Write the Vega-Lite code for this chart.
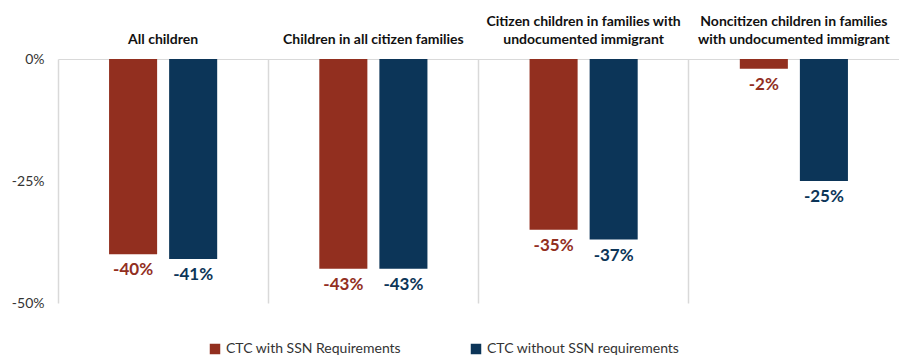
{
  "$schema": "https://vega.github.io/schema/vega-lite/v6.json",
  "width": 899,
  "height": 356,
  "autosize": {"type": "fit", "contains": "padding"},
  "padding": {"left": 11, "top": 14, "right": 0, "bottom": 46},
  "background": "white",
  "config": {
    "view": {"stroke": null},
    "font": "Lato",
    "locale": {"number": {"decimal": ".", "thousands": ",", "grouping": [3], "currency": ["$", ""], "minus": "-"}}
  },
  "data": {"values": [
    {"group": "All children", "series": "CTC with SSN Requirements", "value": -0.40},
    {"group": "All children", "series": "CTC without SSN requirements", "value": -0.41},
    {"group": "Children in all citizen families", "series": "CTC with SSN Requirements", "value": -0.43},
    {"group": "Children in all citizen families", "series": "CTC without SSN requirements", "value": -0.43},
    {"group": "Citizen children in families with undocumented immigrant", "series": "CTC with SSN Requirements", "value": -0.35},
    {"group": "Citizen children in families with undocumented immigrant", "series": "CTC without SSN requirements", "value": -0.37},
    {"group": "Noncitizen children in families with undocumented immigrant", "series": "CTC with SSN Requirements", "value": -0.02},
    {"group": "Noncitizen children in families with undocumented immigrant", "series": "CTC without SSN requirements", "value": -0.25}
  ]},
  "encoding": {
    "x": {
      "field": "group", "type": "nominal", "sort": null,
      "scale": {"paddingInner": 0, "paddingOuter": 0},
      "axis": {
        "orient": "top", "title": null, "labelAngle": 0, "ticks": false,
        "domain": true, "domainColor": "#d9d9d9", "domainWidth": 1,
        "grid": true, "gridColor": "#d9d9d9", "gridWidth": 1.5, "bandPosition": 0,
        "labelFontWeight": "bold", "labelFontSize": 14, "labelColor": "#111111",
        "labelPadding": 31, "labelLineHeight": 18, "labelLimit": 0, "labelBaseline": "bottom",
        "labelExpr": "datum.label == 'Citizen children in families with undocumented immigrant' ? ['Citizen children in families with', 'undocumented immigrant'] : datum.label == 'Noncitizen children in families with undocumented immigrant' ? ['Noncitizen children in families', 'with undocumented immigrant'] : ['', datum.label]"
      }
    },
    "xOffset": {
      "field": "series", "type": "nominal", "sort": null,
      "scale": {"paddingInner": 0.2, "paddingOuter": 0.85}
    },
    "y": {
      "field": "value", "type": "quantitative",
      "scale": {"domain": [-0.5, 0]},
      "axis": {
        "title": null, "values": [0, -0.25, -0.5], "ticks": false, "domain": false, "grid": false,
        "format": ".0%", "labelFontSize": 14, "labelColor": "#333333",
        "labelPadding": 14
      }
    },
    "color": {
      "field": "series", "type": "nominal", "sort": null,
      "scale": {"domain": ["CTC with SSN Requirements", "CTC without SSN requirements"], "range": ["#922f1f", "#0c3558"]}
    }
  },
  "layer": [
    {
      "mark": {"type": "bar"},
      "encoding": {
        "color": {
          "field": "series", "type": "nominal", "sort": null,
          "legend": {
            "title": null, "orient": "none", "direction": "horizontal",
            "legendX": 150, "legendY": 283,
            "symbolType": "square", "symbolSize": 110, "symbolStrokeWidth": 0,
            "labelFontSize": 14, "labelColor": "#333333", "columnPadding": 68, "labelOffset": 4,
            "labelLimit": 0
          }
        }
      }
    },
    {
      "mark": {"type": "text", "baseline": "top", "dy": 8, "fontSize": 17, "fontWeight": "bold"},
      "encoding": {
        "text": {"field": "value", "type": "quantitative", "format": ".0%"},
        "color": {"field": "series", "type": "nominal", "sort": null, "legend": null}
      }
    }
  ]
}
